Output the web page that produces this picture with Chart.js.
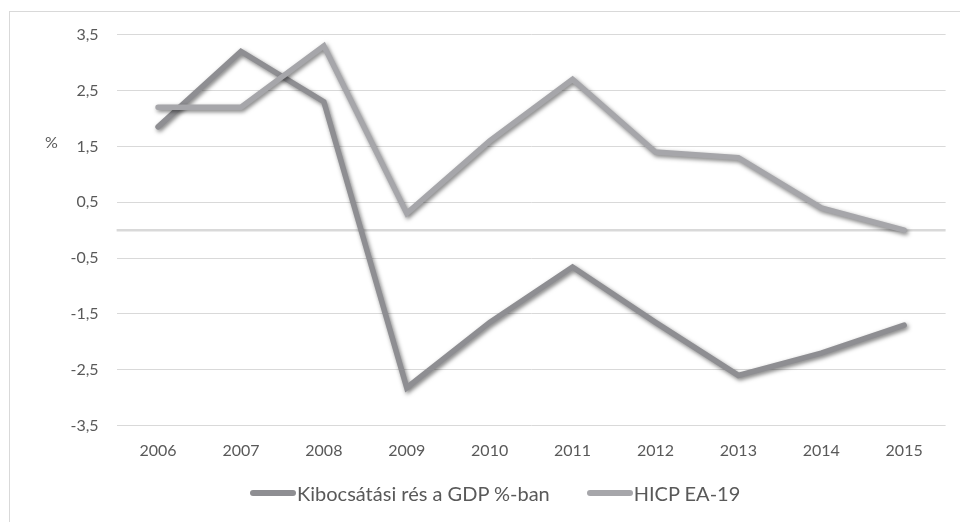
<!DOCTYPE html>
<html lang="hu">
<head>
<meta charset="utf-8">
<script src="https://cdn.jsdelivr.net/npm/chart.js@4.4.1/dist/chart.umd.min.js"></script>
<style>
  html, body { margin: 0; padding: 0; background: #ffffff; }
  body { width: 960px; height: 522px; position: relative; overflow: hidden; font-family: Lato, "Open Sans", sans-serif; }
  #frame { position: absolute; left: 9px; top: 11px; width: 980px; height: 540px; border: 1px solid #d9d9d9; box-sizing: border-box; }
  #wrap { position: absolute; left: 0; top: 0; width: 960px; height: 522px; }
  #legend { position: absolute; top: 479px; left: 250px; height: 28px; display: flex; align-items: center; color: #595959; font-size: 20px; white-space: nowrap; }
  .item { display: flex; align-items: center; margin-right: 37px; }
  .swatch { width: 46px; height: 6px; border-radius: 3px; margin-right: 1px; }
</style>
</head>
<body>
<div id="frame"></div>
<div id="wrap"><canvas id="chart" width="960" height="522"></canvas></div>
<div id="legend"></div>
<script>
// Years on the horizontal axis
const years = ['2006', '2007', '2008', '2009', '2010', '2011', '2012', '2013', '2014', '2015'];

// Output gap as % of GDP
const outputGap = [1.85, 3.2, 2.3, -2.82, -1.65, -0.66, -1.65, -2.6, -2.2, -1.7];

// Euro area HICP inflation (EA-19), %
const hicp = [2.2, 2.2, 3.3, 0.3, 1.6, 2.7, 1.4, 1.3, 0.4, 0.0];

// Value-axis tick positions
const yTicks = [-3.5, -2.5, -1.5, -0.5, 0.5, 1.5, 2.5, 3.5];

const seriesNames = ['Kibocsátási rés a GDP %-ban', 'HICP EA-19'];
const seriesColors = ['#8e8e92', '#a6a6aa'];
const axisText = '#595959';
const gridColor = '#d9d9d9';

// Soft drop shadow under each line
const lineShadow = {
  id: 'lineShadow',
  beforeDatasetDraw(chart) {
    const ctx = chart.ctx;
    ctx.save();
    ctx.shadowColor = 'rgba(0,0,0,0.5)';
    ctx.shadowBlur = 4;
    ctx.shadowOffsetX = 1.5;
    ctx.shadowOffsetY = 2;
  },
  afterDatasetDraw(chart) {
    chart.ctx.restore();
  }
};

// Zero line and the unit label beside the value axis
const axisExtras = {
  id: 'axisExtras',
  beforeDatasetsDraw(chart) {
    const { ctx, chartArea, scales } = chart;
    const y0 = scales.y.getPixelForValue(0);
    ctx.save();
    ctx.strokeStyle = gridColor;
    ctx.lineWidth = 2.5;
    ctx.beginPath();
    ctx.moveTo(chartArea.left, y0);
    ctx.lineTo(chartArea.right, y0);
    ctx.stroke();
    ctx.restore();
  },
  afterDraw(chart) {
    const { ctx, scales } = chart;
    ctx.save();
    ctx.fillStyle = axisText;
    ctx.font = '16px Lato, "Open Sans", sans-serif';
    ctx.textAlign = 'center';
    ctx.textBaseline = 'middle';
    ctx.fillText('%', 51.5, scales.y.getPixelForValue(1.57));
    ctx.restore();
  }
};

const commaFmt = v => Number(v).toFixed(1).replace('.', ',');

new Chart(document.getElementById('chart'), {
  type: 'line',
  data: {
    labels: years,
    datasets: [
      {
        label: seriesNames[0],
        data: outputGap,
        borderColor: seriesColors[0],
        backgroundColor: seriesColors[0],
        borderWidth: 5.5,
        borderJoinStyle: 'miter',
        borderCapStyle: 'round',
        pointRadius: 0,
        tension: 0,
        order: 1
      },
      {
        label: seriesNames[1],
        data: hicp,
        borderColor: seriesColors[1],
        backgroundColor: seriesColors[1],
        borderWidth: 5.5,
        borderJoinStyle: 'miter',
        borderCapStyle: 'round',
        pointRadius: 0,
        tension: 0,
        order: 0
      }
    ]
  },
  options: {
    responsive: false,
    animation: false,
    devicePixelRatio: 1,
    layout: { padding: { left: 0, right: 14.4, top: 34.7, bottom: 36.3 } },
    plugins: { legend: { display: false }, tooltip: { enabled: false } },
    scales: {
      x: {
        offset: true,
        grid: { display: false, drawTicks: false },
        border: { display: false },
        ticks: { color: axisText, font: { family: 'Lato', size: 16 }, padding: 16, maxRotation: 0 },
        afterFit(scale) { scale.height = 60; }
      },
      y: {
        min: -3.5,
        max: 3.5,
        grid: { color: gridColor, lineWidth: 1, drawTicks: false },
        border: { display: false },
        ticks: { color: axisText, font: { family: 'Lato', size: 16 }, padding: 18, callback: commaFmt },
        afterBuildTicks(scale) { scale.ticks = yTicks.map(v => ({ value: v })); },
        afterFit(scale) { scale.width = 116.6; }
      }
    }
  },
  plugins: [lineShadow, axisExtras]
});

// Legend built from the same series names and colours
const legend = document.getElementById('legend');
seriesNames.forEach((name, i) => {
  const item = document.createElement('div');
  item.className = 'item';
  const sw = document.createElement('span');
  sw.className = 'swatch';
  sw.style.background = seriesColors[i];
  const tx = document.createElement('span');
  tx.textContent = name;
  item.appendChild(sw);
  item.appendChild(tx);
  legend.appendChild(item);
});
</script>
</body>
</html>
